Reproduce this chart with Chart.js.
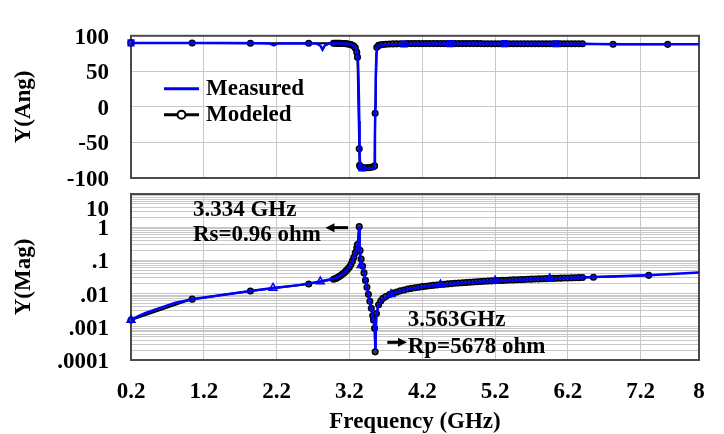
<!DOCTYPE html>
<html>
<head>
<meta charset="utf-8">
<title>Y(Ang) / Y(Mag)</title>
<script src="https://cdn.jsdelivr.net/npm/chart.js@4.4.1/dist/chart.umd.min.js"></script>
<style>
  body { margin: 0; background: #fff; }
  #wrap { position: relative; width: 724px; height: 434px; }
  #wrap canvas { position: absolute; left: 0; top: 0; }
</style>
</head>
<body>
<div id="wrap">
  <canvas id="angChart" width="724" height="434"></canvas>
  <canvas id="magChart" width="724" height="434"></canvas>
</div>
<script>
// Axis ticks
var freqTicks = [0.2, 1.2, 2.2, 3.2, 4.2, 5.2, 6.2, 7.2, 8];
var angTicks = [-100, -50, 0, 50, 100];
var magTicks = [0.0001, 0.001, 0.01, 0.1, 1, 10];
var magTickLabels = ['.0001', '.001', '.01', '.1', '1', '10'];

// Measured phase, Y(Ang) in degrees
var angMeasFreq = [0.2, 0.6, 1.0, 1.5, 2.0, 2.1, 2.16, 2.22, 2.5, 2.75, 2.8, 2.83, 2.86, 2.92, 3.05, 3.15,
  3.22, 3.27, 3.3, 3.315, 3.325, 3.335, 3.34, 3.35, 3.37, 3.45, 3.53, 3.545, 3.55, 3.555, 3.56, 3.57,
  3.585, 3.62, 3.7, 3.95, 4.58, 5.33, 6.04, 6.5, 7.0, 7.5, 8.0];
var angMeasVal = [90, 90, 89.8, 89.7, 89.5, 89.3, 86.5, 89.3, 89.2, 89, 86, 80.5, 86, 89.3, 89.3, 89,
  88, 85, 79, 70, 40, -20, -70, -84, -86, -87, -86, -80, -40, 0, 40, 75,
  84, 86.5, 87.5, 88.5, 89, 89, 88.8, 88.4, 88.2, 88, 88];
var angMeasMarks = [0.2, 3.37, 3.95, 4.58, 5.33, 6.04];

// Modeled phase
var angModFreq = [0.2, 1.04, 1.84, 2.64,
  2.98, 3.0, 3.02, 3.04, 3.06, 3.08, 3.1, 3.12, 3.14, 3.16, 3.18, 3.2, 3.22, 3.24, 3.26, 3.28, 3.3, 3.31,
  3.334, 3.34, 3.345, 3.36, 3.38, 3.4, 3.43, 3.46, 3.49, 3.52, 3.545, 3.553, 3.575, 3.6, 3.63, 3.66, 3.7,
  3.75, 3.8, 3.85, 3.9, 3.95, 4.0,
  4.05, 4.1, 4.15, 4.2, 4.25, 4.3, 4.35, 4.4, 4.45, 4.5, 4.55, 4.6, 4.65, 4.7, 4.75, 4.8, 4.85, 4.9, 4.95, 5.0,
  5.05, 5.1, 5.15, 5.2, 5.25, 5.3, 5.35, 5.4, 5.45, 5.5, 5.55, 5.6, 5.65, 5.7, 5.75, 5.8,
  5.85, 5.9, 5.95, 6.0, 6.05, 6.1, 6.15, 6.2, 6.25, 6.3, 6.35, 6.4,
  6.82, 7.57];
var angModVal = [90, 89.8, 89.6, 89.5,
  89.5, 89.5, 89.5, 89.4, 89.4, 89.3, 89.2, 89.1, 89, 88.8, 88.5, 88.2, 87.6, 86.8, 85.5, 83, 77, 70,
  -59, -82, -84, -85, -85.5, -85.5, -85.5, -85.5, -85, -84.5, -83, -9, 84, 86.5, 87.3, 87.8, 88.2,
  88.4, 88.6, 88.7, 88.8, 88.9, 89,
  89, 89, 89, 89, 89, 89, 89, 89, 89, 89, 89, 89, 89, 89, 89, 89, 89, 89, 89, 89,
  88.9, 88.9, 88.9, 88.9, 88.9, 88.9, 88.9, 88.9, 88.9, 88.9, 88.9, 88.9, 88.9, 88.9, 88.9, 88.9,
  88.8, 88.8, 88.8, 88.8, 88.8, 88.8, 88.8, 88.8, 88.8, 88.8, 88.8, 88.8,
  88.2, 88];

// Measured magnitude, Y(Mag)
var magMeasFreq = [0.2, 0.3, 0.4, 0.5, 0.6, 0.8, 1.04, 1.4, 1.84, 2.15, 2.5, 2.8, 3.0, 3.1, 3.2, 3.25,
  3.29, 3.31, 3.325, 3.334, 3.34, 3.35, 3.36, 3.4, 3.45, 3.5, 3.53, 3.55, 3.556, 3.56, 3.57, 3.6,
  3.65, 3.77, 4.0, 4.45, 5.2, 5.95, 6.4, 6.64, 7.31, 8.0];
var magMeasVal = [0.0016, 0.0021, 0.0026, 0.0031, 0.0037, 0.0052, 0.0068, 0.0088, 0.012, 0.0148, 0.018, 0.023, 0.029, 0.037, 0.062, 0.11,
  0.19, 0.28, 0.55, 1.04, 0.25, 0.08, 0.072, 0.042, 0.012, 0.0036, 0.0016, 0.0007, 0.00022, 0.0007, 0.0022, 0.0045,
  0.0065, 0.0096, 0.0137, 0.0187, 0.0244, 0.0285, 0.0304, 0.032, 0.036, 0.043];
var magMeasMarks = [0.2, 2.15, 2.8, 3.36, 3.77, 4.45, 5.2, 5.95];

// Modeled magnitude
var magModFreq = [0.2, 1.04, 1.84, 2.64,
  2.98, 3.0, 3.02, 3.04, 3.06, 3.08, 3.1, 3.12, 3.14, 3.16, 3.18, 3.2, 3.22, 3.24, 3.26, 3.28, 3.3, 3.31,
  3.334, 3.345, 3.36, 3.38, 3.4, 3.42, 3.44, 3.46, 3.48, 3.5, 3.52, 3.53, 3.545, 3.553,
  3.57, 3.6, 3.63, 3.66, 3.7,
  3.75, 3.8, 3.85, 3.9, 3.95, 4.0,
  4.05, 4.1, 4.15, 4.2, 4.25, 4.3, 4.35, 4.4, 4.45, 4.5, 4.55, 4.6, 4.65, 4.7, 4.75, 4.8, 4.85, 4.9, 4.95, 5.0,
  5.05, 5.1, 5.15, 5.2, 5.25, 5.3, 5.35, 5.4, 5.45, 5.5, 5.55, 5.6, 5.65, 5.7, 5.75, 5.8,
  5.85, 5.9, 5.95, 6.0, 6.05, 6.1, 6.15, 6.2, 6.25, 6.3, 6.35, 6.4,
  6.55, 7.31];
var magModVal = [0.0016, 0.0068, 0.012, 0.0194,
  0.027, 0.028, 0.029, 0.031, 0.033, 0.035, 0.038, 0.041, 0.045, 0.05, 0.056, 0.063, 0.075, 0.095, 0.125, 0.17, 0.24, 0.3,
  1.04, 0.2, 0.11, 0.068, 0.042, 0.025, 0.0155, 0.0095, 0.0059, 0.0036, 0.0022, 0.0016, 0.0009, 0.000176,
  0.0025, 0.0046, 0.006, 0.0072, 0.0082,
  0.0094, 0.0103, 0.0112, 0.0121, 0.0129, 0.0137,
  0.0144, 0.015, 0.0156, 0.0162, 0.0167, 0.0172, 0.0177, 0.0182, 0.0187, 0.0192, 0.0196, 0.02, 0.0205, 0.0209, 0.0213, 0.0217, 0.022, 0.0224, 0.0228, 0.0231,
  0.0235, 0.0238, 0.0241, 0.0244, 0.0247, 0.025, 0.0253, 0.0256, 0.0259, 0.0262, 0.0264, 0.0267, 0.027, 0.0272, 0.0275, 0.0277,
  0.028, 0.0282, 0.0285, 0.0287, 0.029, 0.0292, 0.0294, 0.0296, 0.0298, 0.03, 0.0302, 0.0304,
  0.031, 0.0355];

// Text notes on the magnitude panel, placed in data units
var notes = [
  { text: '3.334 GHz', x: 1.05, y: 3.3 },
  { text: 'Rs=0.96 ohm', x: 1.05, y: 0.58 },
  { text: '3.563GHz', x: 4.0, y: 0.0016 },
  { text: 'Rp=5678 ohm', x: 4.0, y: 0.00025 }
];
var arrows = [
  { x0: 3.18, x1: 2.87, y: 0.97 },
  { x0: 3.72, x1: 3.99, y: 0.00034 }
];

var FONT_FAMILY = '"Liberation Serif", "Times New Roman", serif';
var FONT_SIZE = 23;
var GRID = '#c8c8c8';
Chart.defaults.font.family = FONT_FAMILY;
Chart.defaults.color = '#000';

function toPoints(xs, ys) {
    return xs.map(function (x, i) { return { x: x, y: ys[i] }; });
}

function markerRadius(list, size) {
    return function (ctx) {
        return ctx.raw && list.indexOf(ctx.raw.x) >= 0 ? size : 0;
    };
}

// Box around each plot area
var framePlugin = {
    id: 'frame',
    beforeDatasetsDraw: function (chart) {
        var a = chart.chartArea, ctx = chart.ctx;
        ctx.save();
        ctx.strokeStyle = '#4a4a4a';
        ctx.lineWidth = 2;
        ctx.strokeRect(a.left, a.top, a.right - a.left, a.bottom - a.top);
        ctx.restore();
    }
};

// Legend drawn inside the phase plot
var legendPlugin = {
    id: 'insideLegend',
    afterDatasetsDraw: function (chart) {
        var a = chart.chartArea, ctx = chart.ctx;
        var x0 = a.left + 33, x1 = a.left + 68;
        var rows = [a.top + 53, a.top + 79];
        chart.data.datasets.forEach(function (ds, i) {
            var y = rows[i];
            ctx.save();
            ctx.strokeStyle = ds.borderColor;
            ctx.lineWidth = 3;
            ctx.beginPath();
            ctx.moveTo(x0, y);
            ctx.lineTo(x1, y);
            ctx.stroke();
            if (ds.legendCircle) {
                ctx.beginPath();
                ctx.arc((x0 + x1) / 2, y, 4, 0, Math.PI * 2);
                ctx.fillStyle = '#fff';
                ctx.fill();
                ctx.lineWidth = 2;
                ctx.stroke();
            }
            ctx.fillStyle = '#000';
            ctx.font = 'bold ' + FONT_SIZE + 'px ' + FONT_FAMILY;
            ctx.textBaseline = 'middle';
            ctx.fillText(ds.label, x1 + 7, y);
            ctx.restore();
        });
    }
};

// Resonance notes and arrows on the magnitude plot
var notesPlugin = {
    id: 'notes',
    afterDatasetsDraw: function (chart) {
        var ctx = chart.ctx, xs = chart.scales.x, ys = chart.scales.y;
        ctx.save();
        ctx.fillStyle = '#000';
        ctx.strokeStyle = '#000';
        ctx.font = 'bold ' + FONT_SIZE + 'px ' + FONT_FAMILY;
        ctx.textBaseline = 'middle';
        notes.forEach(function (n) {
            ctx.fillText(n.text, xs.getPixelForValue(n.x), ys.getPixelForValue(n.y));
        });
        arrows.forEach(function (ar) {
            var px0 = xs.getPixelForValue(ar.x0), px1 = xs.getPixelForValue(ar.x1);
            var py = ys.getPixelForValue(ar.y);
            var dir = px1 > px0 ? 1 : -1;
            ctx.lineWidth = 3;
            ctx.beginPath();
            ctx.moveTo(px0, py);
            ctx.lineTo(px1 - dir * 6, py);
            ctx.stroke();
            ctx.beginPath();
            ctx.moveTo(px1, py);
            ctx.lineTo(px1 - dir * 9, py - 4.5);
            ctx.lineTo(px1 - dir * 9, py + 4.5);
            ctx.closePath();
            ctx.fill();
        });
        ctx.restore();
    }
};

function titleFont() {
    return { size: FONT_SIZE, weight: 'bold', lineHeight: 1 };
}

function xScale(showLabels) {
    return {
        type: 'linear',
        min: 0.2,
        max: 8,
        border: { display: false },
        grid: { color: GRID, lineWidth: 1, drawTicks: false },
        afterBuildTicks: function (scale) {
            scale.ticks = freqTicks.map(function (v) { return { value: v }; });
        },
        afterFit: function (scale) { scale.height = showLabels ? 74 : 0; },
        ticks: {
            display: showLabels,
            autoSkip: false,
            maxRotation: 0,
            padding: 18,
            font: { size: FONT_SIZE, weight: 'bold' },
            callback: function (v) { return String(v); }
        },
        title: {
            display: showLabels,
            text: 'Frequency (GHz)',
            font: titleFont(),
            padding: { top: 0, bottom: 0 }
        }
    };
}

var baseOptions = {
    responsive: false,
    animation: false,
    events: [],
    plugins: { legend: { display: false }, tooltip: { enabled: false } }
};

// Phase chart (top)
var angChart = new Chart(document.getElementById('angChart'), {
    type: 'line',
    data: {
        datasets: [{
            label: 'Measured',
            data: toPoints(angMeasFreq, angMeasVal),
            borderColor: '#0000ff',
            borderWidth: 2.5,
            pointStyle: 'rect',
            pointRadius: markerRadius(angMeasMarks, 4),
            pointBorderColor: '#0000ff',
            pointBackgroundColor: 'rgba(0,0,255,0.1)',
            pointBorderWidth: 1.5,
            tension: 0,
            clip: false
        }, {
            label: 'Modeled',
            data: toPoints(angModFreq, angModVal),
            borderColor: '#000',
            borderWidth: 2,
            pointStyle: 'circle',
            pointRadius: 2.8,
            pointBorderColor: '#000',
            pointBackgroundColor: '#444',
            pointBorderWidth: 1.5,
            tension: 0,
            clip: false,
            legendCircle: true
        }]
    },
    options: Object.assign({}, baseOptions, {
        layout: { padding: { left: 0, right: 25, top: 13, bottom: 256 } },
        scales: {
            x: xScale(false),
            y: {
                type: 'linear',
                min: -100,
                max: 100,
                border: { display: false },
                grid: { color: GRID, lineWidth: 1, drawTicks: false },
                afterBuildTicks: function (scale) {
                    scale.ticks = angTicks.map(function (v) { return { value: v }; });
                },
                afterFit: function (scale) { scale.width = 131; },
                ticks: { padding: 22, labelOffset: 2, font: { size: FONT_SIZE, weight: 'bold' } },
                title: { display: true, text: 'Y(Ang)', font: titleFont(), padding: { top: 13, bottom: 0 } }
            }
        }
    }),
    plugins: [framePlugin, legendPlugin]
});

// Magnitude chart (bottom, log scale)
var magChart = new Chart(document.getElementById('magChart'), {
    type: 'line',
    data: {
        datasets: [{
            label: 'Measured',
            data: toPoints(magMeasFreq, magMeasVal),
            borderColor: '#0000ff',
            borderWidth: 2.5,
            pointStyle: 'triangle',
            pointRadius: markerRadius(magMeasMarks, 4.5),
            pointBorderColor: '#0000ff',
            pointBackgroundColor: 'rgba(0,0,255,0.1)',
            pointBorderWidth: 1.5,
            tension: 0,
            clip: false
        }, {
            label: 'Modeled',
            data: toPoints(magModFreq, magModVal),
            borderColor: '#000',
            borderWidth: 2,
            pointStyle: 'circle',
            pointRadius: 2.8,
            pointBorderColor: '#000',
            pointBackgroundColor: '#444',
            pointBorderWidth: 1.5,
            tension: 0,
            clip: false
        }]
    },
    options: Object.assign({}, baseOptions, {
        layout: { padding: { left: 0, right: 25, top: 194, bottom: 0 } },
        scales: {
            x: xScale(true),
            y: {
                type: 'logarithmic',
                min: 0.0001,
                max: 10,
                border: { display: false },
                grid: { color: GRID, lineWidth: 1, drawTicks: false },
                afterBuildTicks: function (scale) {
                    // decade lines plus 2..9 minor lines
                    var t = [];
                    magTicks.forEach(function (d, i) {
                        if (i === magTicks.length - 1) { t.push({ value: d }); return; }
                        for (var m = 1; m < 10; m++) t.push({ value: m === 1 ? d : d * m });
                    });
                    scale.ticks = t;
                },
                afterFit: function (scale) { scale.width = 131; },
                ticks: {
                    autoSkip: false,
                    padding: 22,
                    labelOffset: 2,
                    font: { size: FONT_SIZE, weight: 'bold' },
                    callback: function (v) {
                        var i = magTicks.indexOf(v);
                        if (i < 0) return '';
                        // top label sits one line lower, clear of the phase plot
                        return i === magTicks.length - 1 ? ['', magTickLabels[i]] : magTickLabels[i];
                    }
                },
                title: { display: true, text: 'Y(Mag)', font: titleFont(), padding: { top: 13, bottom: 0 } }
            }
        }
    }),
    plugins: [framePlugin, notesPlugin]
});
</script>
</body>
</html>
